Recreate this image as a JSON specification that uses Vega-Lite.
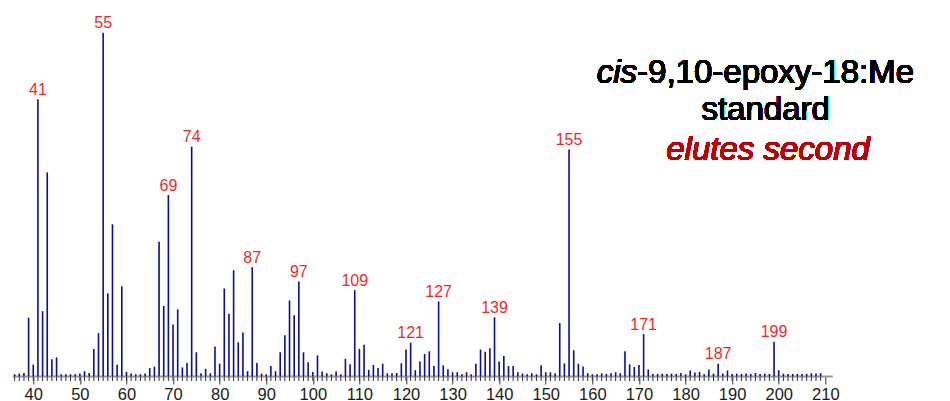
{
  "$schema": "https://vega.github.io/schema/vega-lite/v6.json",
  "autosize": "none",
  "width": 820,
  "height": 343.3,
  "padding": {"left": 12.3, "top": 32.7, "right": 117.7, "bottom": 25},
  "background": "white",
  "config": {"view": {"stroke": null}, "font": "Liberation Sans"},
  "data": {
    "values": [
      {"mz": 36, "i": 0.5}, {"mz": 37, "i": 0.7}, {"mz": 38, "i": 0.9}, {"mz": 39, "i": 17.0},
      {"mz": 40, "i": 3.3}, {"mz": 41, "i": 80.6, "peak": true}, {"mz": 42, "i": 18.9}, {"mz": 43, "i": 59.3},
      {"mz": 44, "i": 4.9}, {"mz": 45, "i": 5.4}, {"mz": 46, "i": 0.5}, {"mz": 47, "i": 0.5},
      {"mz": 48, "i": 0.5}, {"mz": 49, "i": 0.5}, {"mz": 50, "i": 0.7}, {"mz": 51, "i": 1.4},
      {"mz": 52, "i": 0.9}, {"mz": 53, "i": 7.9}, {"mz": 54, "i": 12.5}, {"mz": 55, "i": 100, "peak": true},
      {"mz": 56, "i": 24.1}, {"mz": 57, "i": 44.2}, {"mz": 58, "i": 3.3}, {"mz": 59, "i": 26.1},
      {"mz": 60, "i": 1.2}, {"mz": 61, "i": 0.7}, {"mz": 62, "i": 0.5}, {"mz": 63, "i": 0.5},
      {"mz": 64, "i": 0.7}, {"mz": 65, "i": 2.3}, {"mz": 66, "i": 2.7}, {"mz": 67, "i": 39.1},
      {"mz": 68, "i": 20.4}, {"mz": 69, "i": 52.7, "peak": true}, {"mz": 70, "i": 15.0}, {"mz": 71, "i": 19.4},
      {"mz": 72, "i": 2.5}, {"mz": 73, "i": 3.8}, {"mz": 74, "i": 66.8, "peak": true}, {"mz": 75, "i": 6.9},
      {"mz": 76, "i": 0.8}, {"mz": 77, "i": 2.1}, {"mz": 78, "i": 0.8}, {"mz": 79, "i": 8.6},
      {"mz": 80, "i": 3.6}, {"mz": 81, "i": 25.5}, {"mz": 82, "i": 18.1}, {"mz": 83, "i": 30.8},
      {"mz": 84, "i": 9.8}, {"mz": 85, "i": 12.7}, {"mz": 86, "i": 1.4}, {"mz": 87, "i": 31.7, "peak": true},
      {"mz": 88, "i": 3.8}, {"mz": 89, "i": 0.7}, {"mz": 90, "i": 0.5}, {"mz": 91, "i": 2.9},
      {"mz": 92, "i": 1.4}, {"mz": 93, "i": 6.9}, {"mz": 94, "i": 11.9}, {"mz": 95, "i": 22.0},
      {"mz": 96, "i": 17.7}, {"mz": 97, "i": 27.5, "peak": true}, {"mz": 98, "i": 6.9}, {"mz": 99, "i": 4.0},
      {"mz": 100, "i": 1.2}, {"mz": 101, "i": 6.0}, {"mz": 102, "i": 1.3}, {"mz": 103, "i": 0.8},
      {"mz": 104, "i": 0.5}, {"mz": 105, "i": 1.3}, {"mz": 106, "i": 0.5}, {"mz": 107, "i": 5.0},
      {"mz": 108, "i": 3.4}, {"mz": 109, "i": 25.0, "peak": true}, {"mz": 110, "i": 7.9}, {"mz": 111, "i": 9.1},
      {"mz": 112, "i": 1.8}, {"mz": 113, "i": 3.2}, {"mz": 114, "i": 2.3}, {"mz": 115, "i": 3.6},
      {"mz": 116, "i": 0.8}, {"mz": 117, "i": 0.8}, {"mz": 118, "i": 0.9}, {"mz": 119, "i": 3.7},
      {"mz": 120, "i": 7.7}, {"mz": 121, "i": 9.7, "peak": true}, {"mz": 122, "i": 1.7}, {"mz": 123, "i": 4.2},
      {"mz": 124, "i": 6.4}, {"mz": 125, "i": 7.2}, {"mz": 126, "i": 2.9}, {"mz": 127, "i": 21.7, "peak": true},
      {"mz": 128, "i": 3.1}, {"mz": 129, "i": 2.0}, {"mz": 130, "i": 1.1}, {"mz": 131, "i": 1.1},
      {"mz": 132, "i": 0.5}, {"mz": 133, "i": 1.1}, {"mz": 134, "i": 0.5}, {"mz": 135, "i": 3.6},
      {"mz": 136, "i": 7.7}, {"mz": 137, "i": 7.1}, {"mz": 138, "i": 8.1}, {"mz": 139, "i": 17.1, "peak": true},
      {"mz": 140, "i": 4.2}, {"mz": 141, "i": 5.8}, {"mz": 142, "i": 2.9}, {"mz": 143, "i": 2.9},
      {"mz": 144, "i": 1.1}, {"mz": 145, "i": 0.7}, {"mz": 146, "i": 0.5}, {"mz": 147, "i": 0.8},
      {"mz": 148, "i": 0.5}, {"mz": 149, "i": 3.1}, {"mz": 150, "i": 1.1}, {"mz": 151, "i": 1.1},
      {"mz": 152, "i": 0.8}, {"mz": 153, "i": 15.4}, {"mz": 154, "i": 3.7}, {"mz": 155, "i": 66.0, "peak": true},
      {"mz": 156, "i": 7.5}, {"mz": 157, "i": 3.6}, {"mz": 158, "i": 2.8}, {"mz": 159, "i": 0.8},
      {"mz": 160, "i": 0.5}, {"mz": 161, "i": 0.5}, {"mz": 162, "i": 0.8}, {"mz": 163, "i": 0.6},
      {"mz": 164, "i": 0.8}, {"mz": 165, "i": 1.1}, {"mz": 166, "i": 0.8}, {"mz": 167, "i": 7.2},
      {"mz": 168, "i": 3.4}, {"mz": 169, "i": 2.6}, {"mz": 170, "i": 3.2}, {"mz": 171, "i": 12.2, "peak": true},
      {"mz": 172, "i": 1.9}, {"mz": 173, "i": 0.6}, {"mz": 174, "i": 0.6}, {"mz": 175, "i": 0.7},
      {"mz": 176, "i": 0.6}, {"mz": 177, "i": 0.7}, {"mz": 178, "i": 0.6}, {"mz": 179, "i": 0.9},
      {"mz": 180, "i": 0.5}, {"mz": 181, "i": 1.6}, {"mz": 182, "i": 1.0}, {"mz": 183, "i": 1.2},
      {"mz": 184, "i": 0.5}, {"mz": 185, "i": 1.9}, {"mz": 186, "i": 0.7}, {"mz": 187, "i": 3.6, "peak": true},
      {"mz": 188, "i": 0.7}, {"mz": 189, "i": 1.6}, {"mz": 190, "i": 0.6}, {"mz": 191, "i": 0.7},
      {"mz": 192, "i": 0.6}, {"mz": 193, "i": 0.7}, {"mz": 194, "i": 0.6}, {"mz": 195, "i": 0.9},
      {"mz": 196, "i": 0.6}, {"mz": 197, "i": 0.7}, {"mz": 198, "i": 0.6}, {"mz": 199, "i": 10.0, "peak": true},
      {"mz": 200, "i": 1.7}, {"mz": 201, "i": 0.7}, {"mz": 202, "i": 0.6}, {"mz": 203, "i": 0.6},
      {"mz": 204, "i": 0.6}, {"mz": 205, "i": 0.6}, {"mz": 206, "i": 0.6}, {"mz": 207, "i": 0.8},
      {"mz": 208, "i": 0.7}, {"mz": 209, "i": 0.8}
    ]
  },
  "layer": [
    {
      "mark": {"type": "rule", "stroke": "#0a0aa6", "strokeWidth": 1.6},
      "encoding": {
        "x": {
          "field": "mz",
          "type": "quantitative",
          "scale": {"domain": [35.5, 211.5], "nice": false, "zero": false},
          "axis": {
            "title": null,
            "grid": false,
            "values": [40, 50, 60, 70, 80, 90, 100, 110, 120, 130, 140, 150, 160, 170, 180, 190, 200, 210],
            "labelFontSize": 16.5,
            "labelFontWeight": "normal",
            "labelColor": "#1a1a1a",
            "labelPadding": 2,
            "labelFlush": false,
            "domainColor": "#999999",
            "domainWidth": 2,
            "tickColor": "#333333",
            "tickWidth": 1,
            "tickSize": 8
          }
        },
        "y": {
          "field": "i",
          "type": "quantitative",
          "scale": {"domain": [0, 100], "nice": false},
          "axis": null
        },
        "y2": {"datum": 0}
      }
    },
    {
      "mark": {"type": "rule", "stroke": "#333333", "strokeWidth": 1, "yOffset": 0, "y2Offset": 5},
      "encoding": {
        "x": {"field": "mz", "type": "quantitative"},
        "y": {"datum": 0},
        "y2": {"datum": 0}
      }
    },
    {
      "transform": [{"filter": "datum.peak"}],
      "mark": {"type": "text", "color": "#ff1f1f", "fontSize": 16, "fontWeight": "normal", "baseline": "alphabetic", "align": "center", "dy": -4.5},
      "encoding": {
        "x": {"field": "mz", "type": "quantitative"},
        "y": {"field": "i", "type": "quantitative"},
        "text": {"field": "mz", "type": "quantitative"}
      }
    },
    {
      "mark": {"type": "text", "text": "cis", "fontStyle": "italic", "fontWeight": 400, "fontSize": 33, "align": "right", "baseline": "alphabetic", "fill": "#000000", "strokeWidth": 0},
      "encoding": {"x": {"datum": 169.6}, "y": {"datum": 85.3}}
    },
    {
      "mark": {"type": "text", "text": "-9,10-epoxy-18:Me", "fontWeight": 400, "fontSize": 33, "align": "left", "baseline": "alphabetic", "fill": "#000000", "strokeWidth": 0},
      "encoding": {"x": {"datum": 169.6}, "y": {"datum": 85.3}}
    },
    {
      "mark": {"type": "text", "text": "standard", "fontWeight": 400, "fontSize": 33, "align": "center", "baseline": "alphabetic", "fill": "#000000", "strokeWidth": 0},
      "encoding": {"x": {"datum": 197.2}, "y": {"datum": 74.6}}
    },
    {
      "mark": {"type": "text", "text": "elutes second", "fontStyle": "italic", "fontWeight": 400, "fontSize": 33, "align": "center", "baseline": "alphabetic", "fill": "#c00000", "strokeWidth": 0},
      "encoding": {"x": {"datum": 197.7}, "y": {"datum": 62.9}}
    }
  ]
}
